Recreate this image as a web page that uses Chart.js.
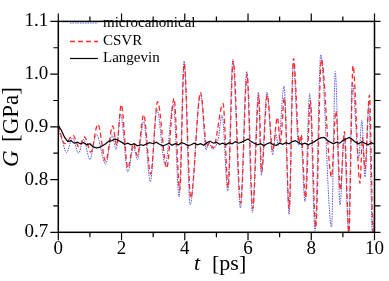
<!DOCTYPE html>
<html>
<head>
<meta charset="utf-8">
<script src="https://cdn.jsdelivr.net/npm/chart.js@4.4.1/dist/chart.umd.min.js"></script>
<style>
html, body { margin: 0; padding: 0; background: #fff; }
#wrap { width: 389px; height: 281px; position: relative; }
</style>
</head>
<body>
<div id="wrap"><canvas id="gChart"></canvas></div>
<script>
// extrema, t in ps, G in GPa
const microT = [0, 0.12, 0.26, 0.45, 0.64, 0.8, 1.0, 1.2, 1.5, 1.7, 1.83, 1.97, 2.2, 2.38, 2.5, 2.7, 2.91, 3.12, 3.38, 3.64, 3.82, 3.98, 4.17, 4.5, 4.68, 4.74, 4.88, 5.05, 5.18, 5.36, 5.52, 5.76, 5.96, 6.14, 6.33, 6.42, 6.6, 6.78, 6.87, 6.96, 7.14, 7.3, 7.43, 7.6, 7.67, 7.8, 7.95, 8.12, 8.3, 8.64, 8.76, 8.91, 9.04, 9.18, 9.3, 9.5, 9.6, 9.7, 9.82, 9.94, 10];
const microG = [0.897, 0.875, 0.851, 0.879, 0.850, 0.876, 0.838, 0.886, 0.829, 0.885, 0.857, 0.924, 0.814, 0.862, 0.838, 0.910, 0.796, 0.933, 0.828, 0.943, 0.767, 1.025, 0.752, 0.963, 0.856, 0.872, 0.858, 0.875, 0.922, 0.779, 1.028, 0.746, 1.005, 0.737, 0.966, 0.808, 0.966, 0.847, 0.888, 0.865, 0.978, 0.734, 1.022, 0.865, 0.880, 0.758, 0.963, 0.703, 1.037, 0.710, 1.005, 0.752, 0.885, 0.700, 0.984, 0.841, 0.912, 0.805, 0.939, 0.690, 0.740];

const csvrT = [0, 0.2, 0.47, 0.65, 0.83, 1.03, 1.25, 1.5, 1.72, 1.85, 1.99, 2.2, 2.38, 2.5, 2.7, 2.92, 3.14, 3.43, 3.66, 3.84, 3.98, 4.19, 4.5, 4.7, 4.78, 4.9, 5.21, 5.37, 5.53, 5.77, 5.97, 6.15, 6.34, 6.43, 6.61, 6.78, 6.93, 7.02, 7.15, 7.3, 7.44, 7.62, 7.68, 7.82, 7.97, 8.14, 8.32, 8.64, 8.78, 8.92, 9.05, 9.19, 9.32, 9.54, 9.62, 9.7, 9.84, 9.96, 10];
const csvrG = [0.903, 0.868, 0.884, 0.862, 0.881, 0.852, 0.905, 0.835, 0.902, 0.865, 0.942, 0.822, 0.868, 0.845, 0.923, 0.810, 0.948, 0.822, 0.954, 0.780, 1.020, 0.765, 0.965, 0.862, 0.870, 0.860, 0.944, 0.785, 1.025, 0.755, 1.000, 0.745, 0.960, 0.815, 0.960, 0.855, 0.918, 0.870, 0.955, 0.745, 1.030, 0.870, 0.885, 0.765, 0.950, 0.710, 1.028, 0.805, 0.930, 0.780, 0.891, 0.700, 1.016, 0.793, 0.880, 0.820, 0.960, 0.690, 0.700];

// Langevin, every 0.1 ps from 0 to 10
const langevinG = [
  0.903, 0.893, 0.880, 0.872, 0.874, 0.869, 0.871, 0.868, 0.870, 0.866,
  0.868, 0.862, 0.860, 0.861, 0.864, 0.868, 0.873, 0.874, 0.877, 0.874,
  0.871, 0.867, 0.869, 0.866, 0.868, 0.864, 0.866, 0.865, 0.868, 0.870,
  0.868, 0.871, 0.867, 0.864, 0.866, 0.869, 0.865, 0.868, 0.866, 0.870,
  0.868, 0.864, 0.866, 0.869, 0.866, 0.868, 0.865, 0.870, 0.873, 0.869,
  0.871, 0.867, 0.869, 0.866, 0.870, 0.868, 0.872, 0.869, 0.871, 0.874,
  0.877, 0.872, 0.869, 0.866, 0.868, 0.864, 0.868, 0.870, 0.866, 0.865,
  0.869, 0.867, 0.870, 0.868, 0.872, 0.874, 0.870, 0.867, 0.869, 0.866,
  0.869, 0.872, 0.876, 0.879, 0.880, 0.875, 0.871, 0.868, 0.871, 0.869,
  0.874, 0.877, 0.880, 0.876, 0.871, 0.868, 0.872, 0.869, 0.866, 0.870,
  0.867
];
const langevinStep = 0.1;

const xTicks = [0, 2, 4, 6, 8, 10];
const yTicks = [0.7, 0.8, 0.9, 1.0, 1.1];

const SERIF = '"Liberation Serif", "DejaVu Serif", serif';

function pairs(ts, gs) {
  return ts.map((t, i) => ({ x: t, y: gs[i] }));
}

const framePlugin = {
  id: 'frame',
  afterDatasetsDraw(chart) {
    const { ctx, chartArea: a, scales: { x, y } } = chart;
    ctx.save();
    ctx.strokeStyle = '#000';
    ctx.lineWidth = 1.5;
    ctx.strokeRect(a.left, a.top, a.right - a.left, a.bottom - a.top);

    // outward ticks on all four sides, minor ticks halfway
    ctx.lineWidth = 1.2;
    ctx.beginPath();
    for (let v = 0; v <= 10; v++) {
      const len = v % 2 === 0 ? 8 : 5;
      const px = x.getPixelForValue(v);
      ctx.moveTo(px, a.bottom); ctx.lineTo(px, a.bottom + len);
      ctx.moveTo(px, a.top); ctx.lineTo(px, a.top - len);
    }
    for (let k = 0; k <= 8; k++) {
      const len = k % 2 === 0 ? 8 : 5;
      const py = y.getPixelForValue(0.7 + 0.05 * k);
      ctx.moveTo(a.left, py); ctx.lineTo(a.left - len, py);
      ctx.moveTo(a.right, py); ctx.lineTo(a.right + 6, py);
    }
    ctx.stroke();

    // axis titles
    ctx.fillStyle = '#000';
    ctx.textBaseline = 'alphabetic';
    ctx.textAlign = 'left';
    ctx.font = 'italic 22px ' + SERIF;
    ctx.fillText('t', 194, 270);
    ctx.font = '22px ' + SERIF;
    ctx.fillText('[ps]', 212, 270);

    ctx.save();
    ctx.translate(18, 167);
    ctx.rotate(-Math.PI / 2);
    ctx.font = 'italic 23px ' + SERIF;
    ctx.fillText('G', 0, 0);
    ctx.font = '23px ' + SERIF;
    ctx.fillText('[GPa]', 25, 0);
    ctx.restore();

    // legend inside the plot
    const rows = [23, 41.5, 58.5];
    chart.data.datasets.forEach((ds, i) => {
      const ry = rows[i];
      ctx.strokeStyle = ds.borderColor;
      ctx.lineWidth = ds.borderWidth;
      ctx.setLineDash(ds.borderDash || []);
      ctx.beginPath();
      ctx.moveTo(70, ry);
      ctx.lineTo(98, ry);
      ctx.stroke();
      ctx.setLineDash([]);
      ctx.fillStyle = '#000';
      ctx.font = '15px ' + SERIF;
      ctx.textBaseline = 'middle';
      ctx.fillText(ds.label, 103, ry);
    });
    ctx.restore();
  }
};

document.addEventListener('DOMContentLoaded', () => {
  const ctx = document.getElementById('gChart').getContext('2d');
  new Chart(ctx, {
    type: 'line',
    data: {
      datasets: [{
        label: 'microcanonical',
        data: pairs(microT, microG),
        borderColor: '#5a5ae0',
        borderWidth: 1,
        borderDash: [1.5, 1],
        cubicInterpolationMode: 'monotone',
        pointRadius: 0,
        order: 2
      }, {
        label: 'CSVR',
        data: pairs(csvrT, csvrG),
        borderColor: '#ff2a2a',
        borderWidth: 1.3,
        borderDash: [5, 3],
        cubicInterpolationMode: 'monotone',
        pointRadius: 0,
        order: 1
      }, {
        label: 'Langevin',
        data: langevinG.map((g, i) => ({ x: i * langevinStep, y: g })),
        borderColor: '#000',
        borderWidth: 1.2,
        tension: 0,
        pointRadius: 0,
        order: 0
      }]
    },
    options: {
      responsive: true,
      maintainAspectRatio: false,
      animation: false,
      layout: { padding: { top: 8, right: 10, left: 0, bottom: 0 } },
      plugins: {
        legend: { display: false },
        tooltip: { enabled: false }
      },
      scales: {
        x: {
          type: 'linear',
          min: 0,
          max: 10,
          afterFit: s => { s.height = 48.7; },
          afterBuildTicks: s => { s.ticks = xTicks.map(v => ({ value: v })); },
          grid: { display: false, drawTicks: false },
          border: { display: false },
          ticks: {
            padding: 5,
            color: '#000',
            font: { family: SERIF, size: 19 },
            maxRotation: 0,
            callback: v => String(v)
          }
        },
        y: {
          min: 0.7,
          max: 1.1,
          afterFit: s => { s.width = 58.3; },
          afterBuildTicks: s => { s.ticks = yTicks.map(v => ({ value: v })); },
          grid: { display: false, drawTicks: false },
          border: { display: false },
          ticks: {
            padding: 10,
            color: '#000',
            font: { family: SERIF, size: 19 },
            callback: v => v.toFixed(1)
          }
        }
      }
    },
    plugins: [framePlugin]
  });
});
</script>
</body>
</html>
